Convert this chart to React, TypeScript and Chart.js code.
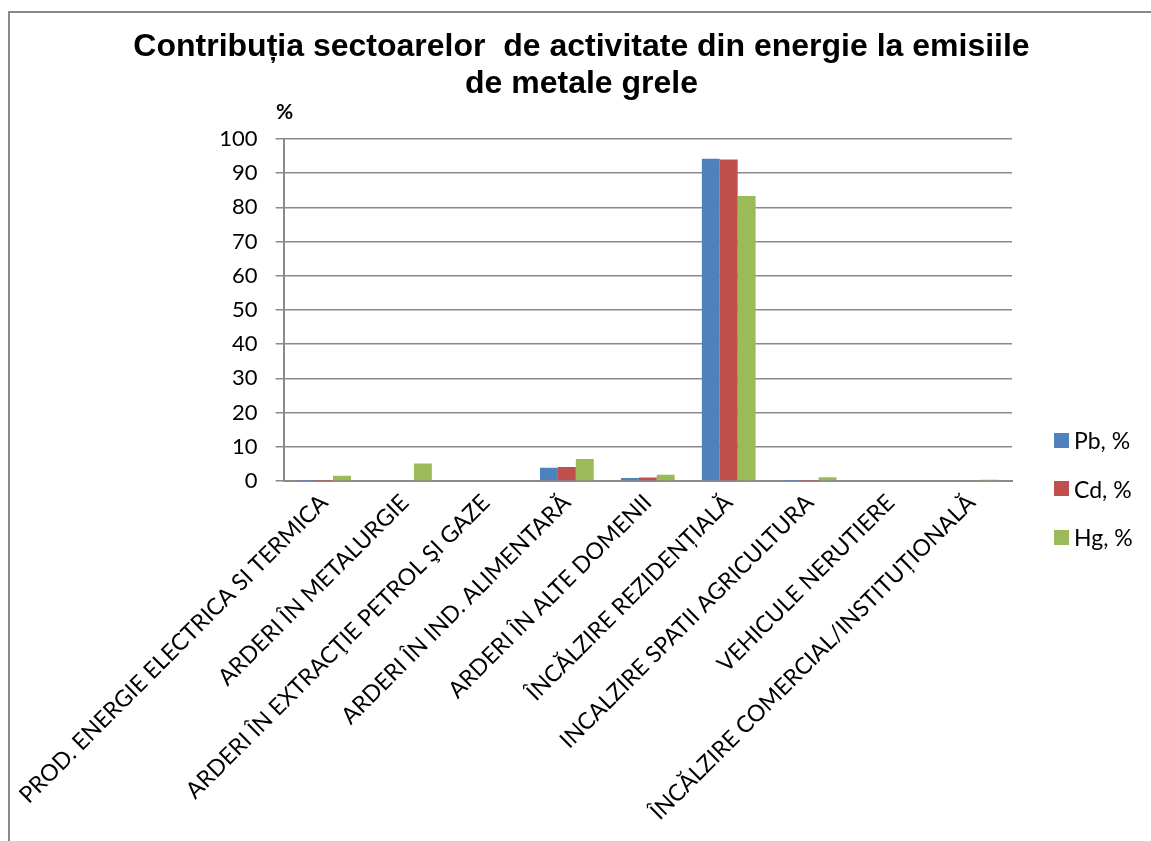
import React, { useEffect, useRef } from "react";
import { Chart, registerables } from "chart.js";

Chart.register(...registerables);

const categories = [
  "PROD. ENERGIE ELECTRICA SI TERMICA",
  "ARDERI ÎN METALURGIE",
  "ARDERI ÎN EXTRACŢIE PETROL ŞI GAZE",
  "ARDERI ÎN IND. ALIMENTARĂ",
  "ARDERI ÎN ALTE DOMENII",
  "ÎNCĂLZIRE REZIDENȚIALĂ",
  "INCALZIRE SPATII AGRICULTURA",
  "VEHICULE NERUTIERE",
  "ÎNCĂLZIRE COMERCIAL/INSTITUȚIONALĂ",
];

const pbValues = [0.1, 0, 0, 3.9, 0.9, 94.2, 0.1, 0, 0];
const cdValues = [0.1, 0, 0, 4.1, 1.0, 94.0, 0.1, 0, 0];
const hgValues = [1.5, 5.1, 0.2, 6.4, 1.8, 83.3, 1.1, 0, 0.4];

const seriesNames = ["Pb, %", "Cd, %", "Hg, %"];
const seriesColors = ["#4F81BD", "#C0504D", "#9BBB59"];

const titleLines = [
  "Contribuția sectoarelor  de activitate din energie la emisiile",
  "de metale grele",
];
const yUnit = "%";

export default function App() {
  const ref = useRef<HTMLCanvasElement>(null);

  useEffect(() => {
    if (!ref.current) return;
    const gray = "#8a8a8a";
    const chart = new Chart(ref.current, {
      type: "bar",
      data: {
        labels: categories,
        datasets: [pbValues, cdValues, hgValues].map((d, i) => ({
          label: seriesNames[i],
          data: d,
          backgroundColor: seriesColors[i],
          borderWidth: 0,
          categoryPercentage: 0.664,
          barPercentage: 1,
        })),
      },
      options: {
        animation: false,
        responsive: false,
        devicePixelRatio: 1,
        layout: { padding: { top: 139, left: 0, right: 139, bottom: 0 } },
        plugins: {
          legend: { display: false },
          title: { display: false },
          tooltip: { enabled: false },
        },
        scales: {
          x: {
            grid: { display: false, drawTicks: false },
            border: { display: true, color: gray, width: 2 },
            ticks: {
              maxRotation: 45,
              minRotation: 45,
              autoSkip: false,
              color: "#000",
              padding: 8,
              font: { family: "Lato", size: 23 },
            },
            afterFit: (s: any) => {
              s.height = 360;
            },
          },
          y: {
            min: 0,
            max: 100,
            ticks: {
              stepSize: 10,
              color: "#000",
              padding: 18,
              font: { family: "Lato", size: 22 },
            },
            grid: { color: gray, lineWidth: 1.5, tickLength: 8 },
            border: { display: true, color: gray, width: 2 },
            afterFit: (s: any) => {
              s.width = 280;
            },
          },
        },
      },
    });
    return () => chart.destroy();
  }, []);

  return (
    <div
      style={{
        position: "fixed",
        left: 0,
        top: 0,
        width: 1151,
        height: 841,
        overflow: "hidden",
        background: "#fff",
      }}
    >
      <div
        style={{
          position: "absolute",
          left: 8,
          top: 11,
          width: 1300,
          height: 1000,
          borderLeft: "2px solid #8a8a8a",
          borderTop: "2px solid #8a8a8a",
        }}
      />
      <canvas
        ref={ref}
        width={1151}
        height={841}
        style={{ position: "absolute", left: 0, top: 0, width: 1151, height: 841 }}
      />
      <div
        style={{
          position: "absolute",
          left: 0,
          top: 27,
          width: 1163,
          textAlign: "center",
          fontFamily: "'Liberation Sans', Arial, sans-serif",
          fontWeight: "bold",
          fontSize: 32,
          lineHeight: "37px",
          color: "#000",
          whiteSpace: "pre",
        }}
      >
        {titleLines.map((t, i) => (
          <div key={i}>{t}</div>
        ))}
      </div>
      <div
        style={{
          position: "absolute",
          left: 276,
          top: 98,
          fontFamily: "Lato, sans-serif",
          fontWeight: "bold",
          fontSize: 21,
          lineHeight: "26px",
          color: "#000",
        }}
      >
        {yUnit}
      </div>
      {seriesNames.map((n, i) => (
        <div
          key={n}
          style={{
            position: "absolute",
            left: 1054,
            top: 426 + i * 48.5,
            height: 28,
            display: "flex",
            alignItems: "center",
            fontFamily: "Lato, sans-serif",
            fontSize: 23,
            color: "#000",
            whiteSpace: "nowrap",
          }}
        >
          <span
            style={{
              display: "inline-block",
              width: 15,
              height: 15,
              background: seriesColors[i],
              marginRight: 5,
            }}
          />
          {n}
        </div>
      ))}
    </div>
  );
}
